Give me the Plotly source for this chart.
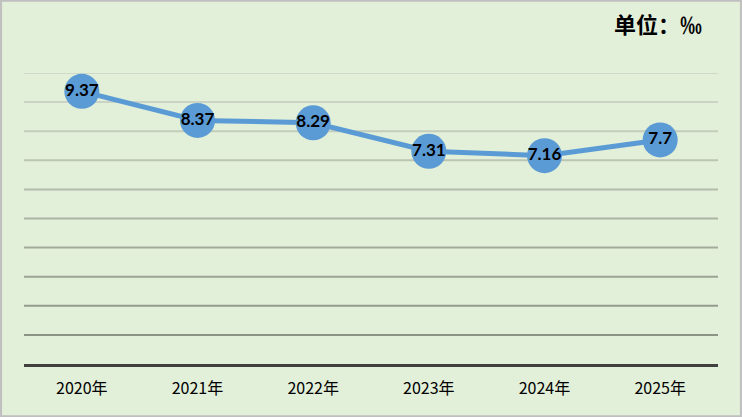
import plotly.graph_objects as go

categories = ["2020年", "2021年", "2022年", "2023年", "2024年", "2025年"]
values = [9.37, 8.37, 8.29, 7.31, 7.16, 7.7]
labels = ["9.37", "8.37", "8.29", "7.31", "7.16", "7.7"]
grid_ticks = [1, 2, 3, 4, 5, 6, 7, 8, 9, 10]
grid_colors = ["#8c9585", "#939c8c", "#9ba493", "#a3ac9b", "#abb4a3", "#b3bcab",
               "#bcc5b4", "#c4cdbc", "#cbd3c4", "#d0d8ca"]

W, H = 742, 417
L, R, T, B = 24, 24, 73, 53
pw, ph = W - L - R, H - T - B

fig = go.Figure()
fig.add_trace(go.Scatter(
    x=categories, y=values, text=labels,
    mode="lines+markers+text",
    line=dict(color="#5B9BD5", width=5),
    marker=dict(size=35, color="#5B9BD5"),
    textposition="middle center",
    textfont=dict(family="Lato, Noto Sans", size=17, color="#000000", weight="bold"),
    cliponaxis=False,
    hoverinfo="skip",
))

shapes = []
for t, c in zip(grid_ticks, grid_colors):
    shapes.append(dict(type="line", xref="paper", yref="y", x0=0, x1=1, y0=t, y1=t,
                       line=dict(color=c, width=2), layer="below"))
shapes.append(dict(type="rect", xref="paper", yref="paper",
                   x0=-L / pw + 0.0015, x1=1 + R / pw - 0.0015,
                   y0=-B / ph + 0.003, y1=1 + T / ph - 0.003,
                   line=dict(color="#bfbfbf", width=2), layer="below"))

fig.update_layout(
    width=W, height=H,
    margin=dict(l=L, r=R, t=T, b=B),
    paper_bgcolor="#E2EFD9", plot_bgcolor="#E2EFD9",
    showlegend=False,
    shapes=shapes,
    xaxis=dict(range=[-0.5, 5.5], showgrid=False, zeroline=False,
               showline=True, linecolor="#404040", linewidth=3,
               ticks="outside", ticklen=8, tickcolor="rgba(0,0,0,0)",
               tickfont=dict(family="Noto Sans CJK SC", size=16, color="#000000")),
    yaxis=dict(range=[0, 10], showgrid=False, zeroline=False, showticklabels=False,
               fixedrange=True),
    annotations=[dict(text="单位：‰", xref="paper", yref="paper",
                      x=(704 - L) / pw, y=(H - B - 23) / ph,
                      xanchor="right", yanchor="middle", showarrow=False,
                      font=dict(family="Noto Sans CJK SC", size=22, color="#000000",
                                weight="bold"))],
)

fig.write_html("out.html", config={"displayModeBar": False},
               post_script="document.body.style.margin='0';document.body.style.overflow='hidden';")
